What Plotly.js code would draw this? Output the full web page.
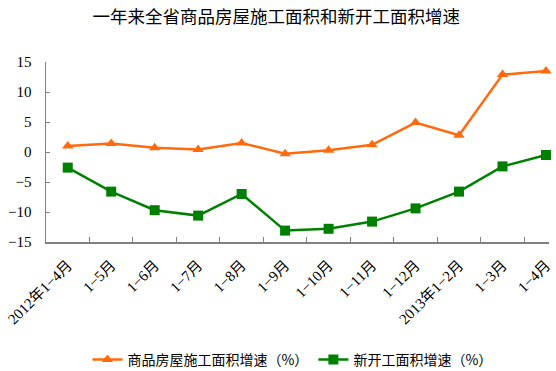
<!DOCTYPE html>
<html><head><meta charset="utf-8">
<script src="https://cdn.plot.ly/plotly-3.0.1.min.js"></script>
<style>html,body{margin:0;padding:0;background:#fff;}#chart{width:556px;height:371px;}</style>
</head><body><div id="chart"></div>
<script>
var categories = ["2012年1−4月","1−5月","1−6月","1−7月","1−8月","1−9月","1−10月","1−11月","1−12月","2013年1−2月","1−3月","1−4月"];
var constructionGrowth = [1.0, 1.4, 0.7, 0.4, 1.5, -0.3, 0.3, 1.2, 4.9, 2.8, 12.9, 13.5];
var newStartGrowth = [-2.6, -6.6, -9.7, -10.6, -7.0, -13.1, -12.8, -11.6, -9.4, -6.6, -2.4, -0.5];
var seriesNames = ["商品房屋施工面积增速（%）", "新开工面积增速（%）"];
var titleText = "一年来全省商品房屋施工面积和新开工面积增速";
var fontFam = "Liberation Serif, Noto Sans CJK SC, serif";

var traces = [
  {x: categories, y: constructionGrowth, name: seriesNames[0], type: "scatter", mode: "lines+markers",
   line: {color: "#FF6A0D", width: 2.5}, marker: {symbol: "triangle-up", size: 10, color: "#FF6A0D"}, cliponaxis: false},
  {x: categories, y: newStartGrowth, name: seriesNames[1], type: "scatter", mode: "lines+markers",
   line: {color: "#008000", width: 2.5}, marker: {symbol: "square", size: 10, color: "#008000"}, cliponaxis: false}
];
var layout = {
  width: 556, height: 371,
  margin: {l: 46, r: 7, t: 62, b: 129, autoexpand: false},
  paper_bgcolor: "#fff", plot_bgcolor: "#fff",
  font: {family: fontFam, size: 13, color: "#000"},
  title: {text: titleText, x: 0.497, xanchor: "center", y: 0.955, yanchor: "middle",
          font: {family: "Noto Sans CJK SC, serif", size: 17.5, color: "#000"}},
  showlegend: true,
  legend: {orientation: "h", x: 0.49, xanchor: "center", y: -0.655, yanchor: "middle",
           font: {family: "Noto Sans CJK SC, serif", size: 14}, itemwidth: 30, tracegroupgap: 0},
  xaxis: {type: "category", range: [-0.5, 11.07], showgrid: false, zeroline: false, automargin: false,
          showline: true, linecolor: "#808080", linewidth: 1.5,
          ticks: "inside", tickson: "boundaries", ticklen: 5, tickcolor: "#808080",
          tickangle: -45, ticklabelstandoff: 7, tickfont: {family: fontFam, size: 15}},
  yaxis: {range: [-15, 15], tickvals: [-15,-10,-5,0,5,10,15], showgrid: false, zeroline: false, automargin: false,
          showline: true, linecolor: "#808080", linewidth: 1.5,
          ticks: "inside", ticklen: 4, tickcolor: "#808080", ticklabelstandoff: 10,
          tickfont: {family: fontFam, size: 15}}
};
Plotly.newPlot("chart", traces, layout, {displayModeBar: false, staticPlot: true});
</script></body></html>
